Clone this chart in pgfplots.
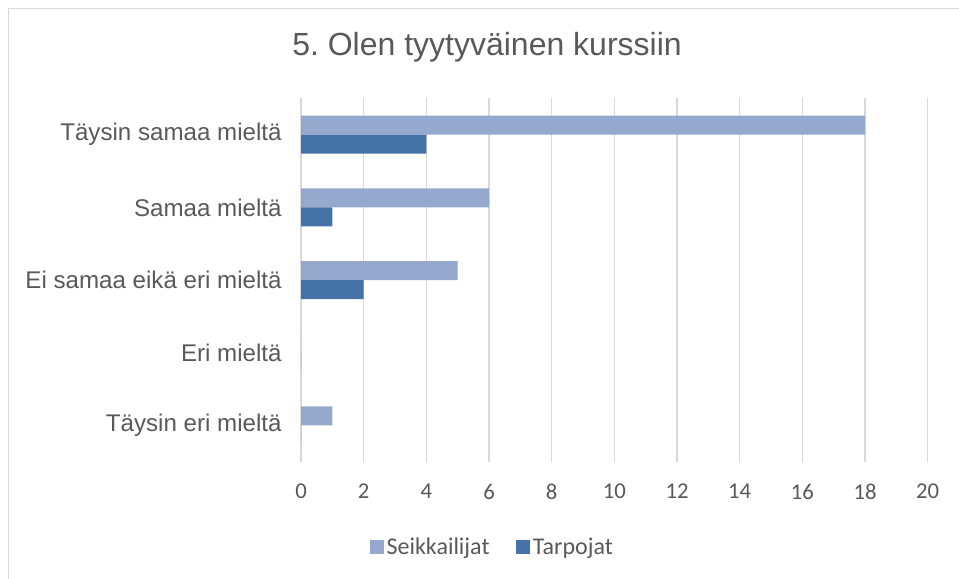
\documentclass[border=0pt]{standalone}
\usepackage{pgfplots}
\pgfplotsset{compat=1.18}
\usepackage{fontspec}
\setmainfont{Liberation Sans}
\newfontfamily\calibri{Carlito}
\definecolor{lightbar}{HTML}{95A9CF}
\definecolor{darkbar}{HTML}{4573A7}
\definecolor{txt}{HTML}{595959}
\definecolor{gridc}{HTML}{D9D9D9}
\frenchspacing
\begin{document}
\begin{tikzpicture}
\path[use as bounding box] (0,0) rectangle (719.25pt,433.5pt);
\draw[gridc, line width=0.9pt] (6.4pt,-1pt) -- (6.4pt,427.4pt) -- (720pt,427.4pt);
\node[anchor=base, text=txt, font=\fontsize{24}{28}\selectfont] at (365.25pt,391.5pt) {5. Olen tyytyväinen kurssiin};
\begin{axis}[
  at={(225.75pt,87.2pt)}, anchor=south west,
  scale only axis, width=470pt, height=272.5pt,
  xbar, bar width=14.25pt, bar shift=0pt,
  xmin=0, xmax=20, xtick={0,2,...,20},
  ymin=-0.5, ymax=4.5, ytick={0,1,2,3,4},
  yticklabels={Täysin eri mieltä, Eri mieltä, Ei samaa eikä eri mieltä, Samaa mieltä, Täysin samaa mieltä},
  xmajorgrids, major grid style={gridc, line width=1.1pt},
  axis line style={draw=none}, major tick length=0pt, tick style={draw=none},
  /pgf/number format/assume math mode=true,
  xticklabel style={font=\calibri\fontsize{17}{20}\selectfont, text=txt, yshift=-13pt},
  yticklabel style={font=\fontsize{18.1}{22}\selectfont, text=txt, xshift=-11pt},
  legend columns=2,
  legend style={at={(0.306,-0.235)}, anchor=center, draw=none, fill=none,
    font=\calibri\fontsize{18}{21}\selectfont, text=txt,
    /tikz/every even column/.append style={column sep=18pt}},
  legend image code/.code={\fill[#1] (0pt,-5.25pt) rectangle (10.5pt,5.25pt);},
]
\addplot[fill=lightbar, draw=none] coordinates {(1,0.1309) (0,1.1309) (5,2.1309) (6,3.1309) (18,4.1309)};
\addlegendentry{Seikkailijat}
\addplot[fill=darkbar, draw=none] coordinates {(0,-0.1309) (0,0.8691) (2,1.8691) (1,2.8691) (4,3.8691)};
\addlegendentry{Tarpojat}
\end{axis}
\end{tikzpicture}
\end{document}
